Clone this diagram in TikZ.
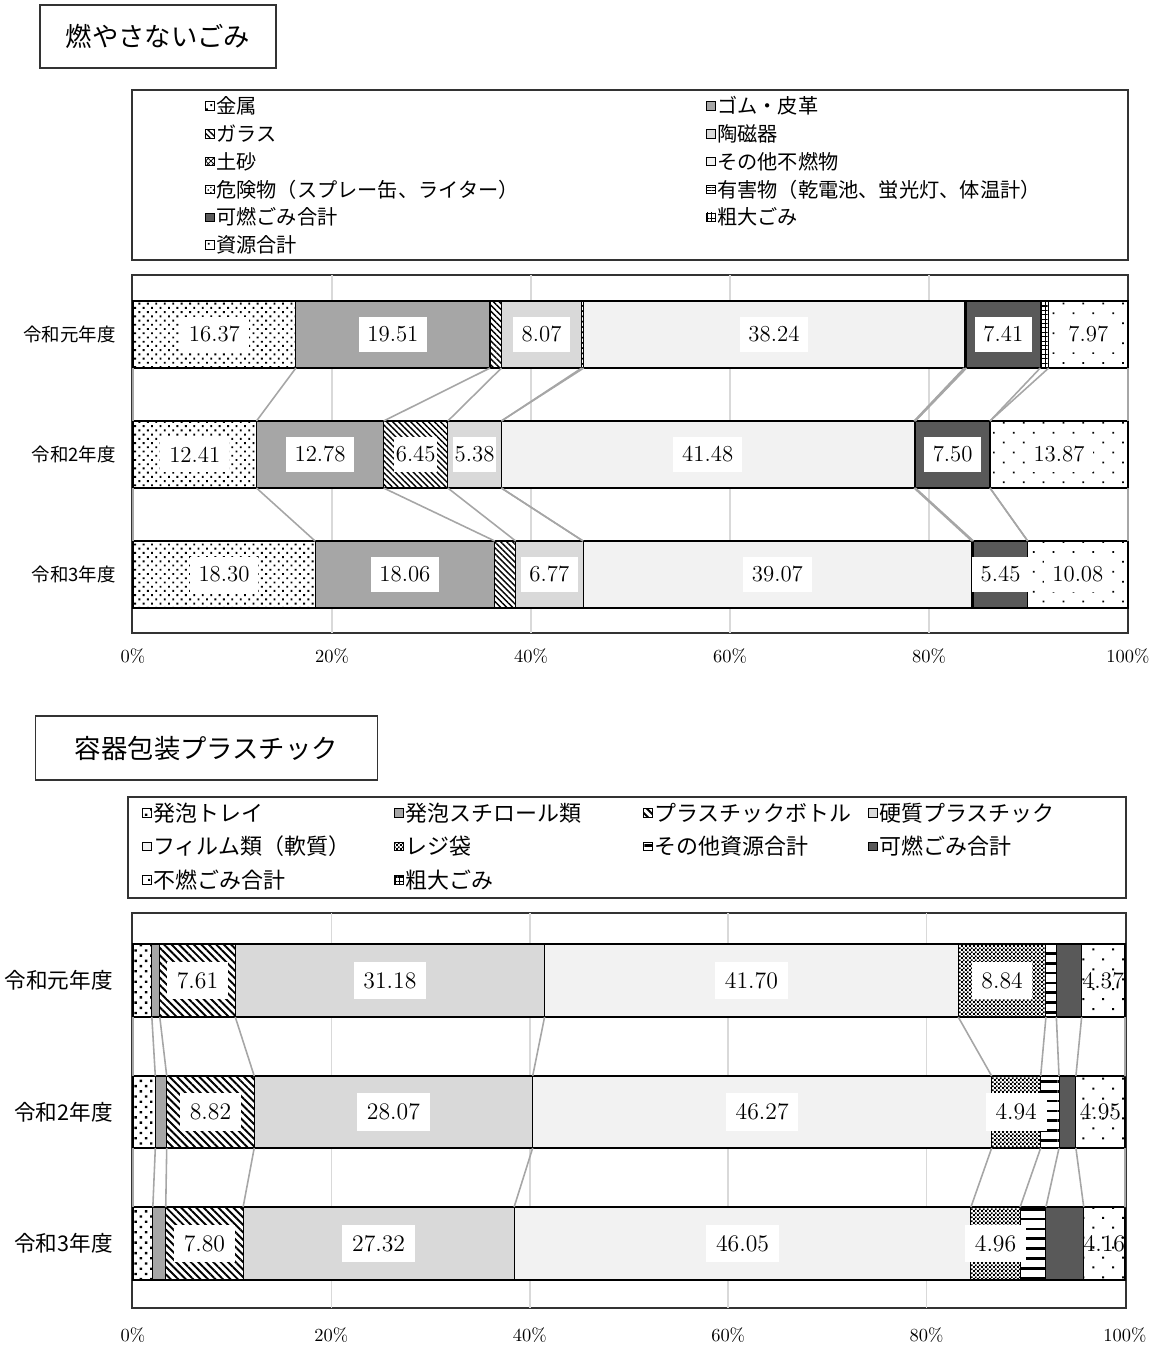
\documentclass[tikz,border=0pt]{standalone}
\usepackage{fontspec}
\newfontfamily\jpfont{Noto Sans CJK JP}
\usepackage{xcolor}
\usepackage{tikz}
\usetikzlibrary{patterns}
\usetikzlibrary{patterns.meta}

\definecolor{midgray}{HTML}{A6A6A6}
\definecolor{lightgray2}{HTML}{D9D9D9}
\definecolor{palegray}{HTML}{F2F2F2}
\definecolor{darkgray2}{HTML}{595959}

\pgfdeclarepatternformonly{finecheck}{\pgfpointorigin}{\pgfpoint{2.4pt}{2.4pt}}{\pgfpoint{2.4pt}{2.4pt}}{%
    \pgfpathrectangle{\pgfpointorigin}{\pgfpoint{1.2pt}{1.2pt}}%
    \pgfpathrectangle{\pgfpoint{1.2pt}{1.2pt}}{\pgfpoint{1.2pt}{1.2pt}}%
    \pgfusepath{fill}}

\def\nolabel{-}

% one stacked bar: name, y top, y bottom, px per percent, label style, segments
\newcommand{\stackbar}[6]{%
    \gdef\cumsum{0}%
    \coordinate (#1-0-t) at (133,#2);
    \coordinate (#1-0-b) at (133,#3);
    \foreach \v/\s/\l/\ls [count=\k] in {#6}{
        \pgfmathsetmacro{\xa}{133+\cumsum*#4}
        \pgfmathsetmacro{\nc}{\cumsum+\v}
        \pgfmathsetmacro{\xb}{133+\nc*#4}
        \xdef\cumsum{\nc}
        \fill[white] (\xa,#2) rectangle (\xb,#3);
        \path[\s] (\xa,#2) rectangle (\xb,#3);
        \draw[segedge] (\xa,#2) rectangle (\xb,#3);
        \coordinate (#1-\k-t) at (\xb,#2);
        \coordinate (#1-\k-b) at (\xb,#3);
    }%
    % labels on top of all segments
    \gdef\cumsum{0}%
    \foreach \v/\s/\l/\ls [count=\k] in {#6}{
        \pgfmathsetmacro{\xa}{133+\cumsum*#4}
        \pgfmathsetmacro{\nc}{\cumsum+\v}
        \pgfmathsetmacro{\xb}{133+\nc*#4}
        \xdef\cumsum{\nc}
        \ifx\l\nolabel\else
            \node[#5,\ls] (#1-\k-lab) at ({(\xa+\xb)/2},{(#2+#3)/2}) {\l};
        \fi
    }%
}

\begin{document}
\begin{tikzpicture}[x=0.02cm, y=-0.02cm,
    boxline/.style={draw=black!80, line width=0.6pt},
    titlebox/.style={draw=black!80, line width=0.6pt, inner sep=0pt, font=\jpfont\fontsize{15}{18}\selectfont},
    segedge/.style={draw=black, line width=0.6pt},
    gridline/.style={draw=lightgray2, line width=0.85pt},
    linkline/.style={draw=midgray, line width=0.9pt},
    legbox/.style={draw=black, line width=0.5pt, minimum size=4.8pt, inner sep=0pt},
    legtext/.style={anchor=west, inner sep=0pt, font=\jpfont\fontsize{11.5}{13}\selectfont},
    legtextb/.style={anchor=west, inner sep=0pt, font=\jpfont\fontsize{12.5}{14}\selectfont},
    catlabel/.style={anchor=east, inner sep=0pt, font=\jpfont\fontsize{10.5}{12}\selectfont},
    catlabelb/.style={anchor=east, inner sep=0pt, font=\jpfont\fontsize{12.3}{14}\selectfont},
    ticklabel/.style={inner sep=0pt, font=\fontsize{10.5}{12}\selectfont},
    vallabel/.style={fill=white, inner xsep=5pt, inner ysep=5.5pt, font=\fontsize{13}{15}\selectfont},
    vallabelb/.style={fill=white, inner xsep=5.5pt, inner ysep=6pt, font=\fontsize{13.5}{16}\selectfont},
    lb/.style={},
    nobg/.style={fill=none},
    tight/.style={inner xsep=1pt},
    % patterns of the first chart
    kinzoku/.style={pattern={Dots[distance=3.4pt, angle=45, radius=0.75pt]}},
    gomu/.style={fill=midgray},
    garasu/.style={pattern={Lines[angle=-45, distance=2.4pt, line width=0.8pt]}},
    toujiki/.style={fill=lightgray2},
    dosha/.style={pattern=crosshatch},
    sonota/.style={fill=palegray},
    kiken/.style={pattern=crosshatch dots},
    yugai/.style={pattern={Lines[angle=0, distance=2pt, line width=0.5pt]}},
    kanen/.style={fill=darkgray2},
    sodai/.style={pattern={Hatch[angle=0, distance=2.5pt, line width=0.6pt]}},
    shigen/.style={pattern={Dots[distance=8pt, angle=45, radius=0.7pt]}},
    % patterns of the second chart
    tray/.style={pattern={Dots[distance=4.2pt, angle=45, radius=0.95pt]}},
    styro/.style={fill=midgray},
    bottle/.style={pattern={Lines[angle=-45, distance=3pt, line width=1.1pt]}},
    kousitsu/.style={fill=lightgray2},
    film/.style={fill=palegray},
    reji/.style={pattern=finecheck},
    ladder/.style={pattern={Lines[angle=0, distance=5.6pt, line width=1.5pt]}},
    funen/.style={pattern={Dots[distance=8pt, angle=45, radius=0.8pt]}}
]
    \useasboundingbox (0,0) rectangle (1159,1347);

    % ---------- 燃やさないごみ ----------
    \node[titlebox, minimum width=4.72cm, minimum height=1.26cm] (title1) at (158,36.5) {燃やさないごみ};

    \draw[boxline] (132,90) rectangle (1128,260);
    \foreach \s/\t [count=\i from 0] in {kinzoku/金属, gomu/ゴム・皮革, garasu/ガラス, toujiki/陶磁器, dosha/土砂, sonota/その他不燃物, kiken/危険物（スプレー缶、ライター）, yugai/有害物（乾電池、蛍光灯、体温計）, kanen/可燃ごみ合計, sodai/粗大ごみ, shigen/資源合計}{
        \pgfmathsetmacro{\lx}{210+mod(\i,2)*501}
        \pgfmathsetmacro{\ly}{106+floor(\i/2)*27.8}
        \node[legbox,\s] (leg1-\i) at (\lx,\ly) {};
        \node[legtext] (leg1-\i-t) at (\lx+6,\ly) {\t};
    }

    \draw[boxline] (132,275) rectangle (1128,633);
    \foreach \g in {1,...,4}
        \draw[gridline] ({133+\g*199},275) -- ({133+\g*199},633);

    \stackbar{a1}{301}{368}{9.95}{vallabel}{16.37/kinzoku/16.37/lb, 19.51/gomu/19.51/lb, 1.15/garasu/-/lb, 8.07/toujiki/8.07/lb, 0.2/dosha/-/lb, 38.24/sonota/38.24/lb, 0.15/kiken/-/lb, 0.08/yugai/-/lb, 7.41/kanen/7.41/lb, 0.85/sodai/-/lb, 7.97/shigen/7.97/lb}
    \stackbar{a2}{421}{488}{9.95}{vallabel}{12.41/kinzoku/12.41/lb, 12.78/gomu/12.78/lb, 6.45/garasu/6.45/tight, 5.38/toujiki/5.38/tight, 0/dosha/-/lb, 41.48/sonota/41.48/lb, 0.08/kiken/-/lb, 0.05/yugai/-/lb, 7.50/kanen/7.50/lb, 0/sodai/-/lb, 13.87/shigen/13.87/lb}
    \stackbar{a3}{541}{608}{9.95}{vallabel}{18.30/kinzoku/18.30/lb, 18.06/gomu/18.06/lb, 2.1/garasu/-/lb, 6.77/toujiki/6.77/lb, 0/dosha/-/lb, 39.07/sonota/39.07/lb, 0.1/kiken/-/lb, 0.07/yugai/-/lb, 5.45/kanen/5.45/lb, 0/sodai/-/lb, 10.08/shigen/10.08/lb}

    \foreach \k in {0,...,11}{
        \draw[linkline] (a1-\k-b) -- (a2-\k-t);
        \draw[linkline] (a2-\k-b) -- (a3-\k-t);
    }

    \node[catlabel] (year1a) at (116,334.5) {令和元年度};
    \node[catlabel] (year1b) at (116,454.5) {令和2年度};
    \node[catlabel] (year1c) at (116,574.5) {令和3年度};

    \foreach \p in {0,20,...,100}
        \node[ticklabel] (ax1-\p) at ({133+\p*9.95},656) {\p\%};

    % ---------- 容器包装プラスチック ----------
    \node[titlebox, minimum width=6.86cm, minimum height=1.28cm] (title2) at (206.5,748) {容器包装プラスチック};

    \draw[boxline] (128,797) rectangle (1126,898);
    \foreach \s/\t/\lx/\ly [count=\i] in {tray/発泡トレイ/147/813, styro/発泡スチロール類/399/813, bottle/プラスチックボトル/648/813, kousitsu/硬質プラスチック/873/813, film/フィルム類（軟質）/147/846.5, reji/レジ袋/399/846.5, ladder/その他資源合計/648/846.5, kanen/可燃ごみ合計/873/846.5, funen/不燃ごみ合計/147/880, sodai/粗大ごみ/399/880}{
        \node[legbox,\s] (leg2-\i) at (\lx,\ly) {};
        \node[legtextb] (leg2-\i-t) at (\lx+6,\ly) {\t};
    }

    \draw[boxline] (132,913) rectangle (1126,1308);
    \foreach \g in {1,...,4}
        \draw[gridline] ({133+\g*198.4},913) -- ({133+\g*198.4},1308);

    \stackbar{b1}{944}{1017}{9.92}{vallabelb}{1.9/tray/-/lb, 0.8/styro/-/lb, 7.61/bottle/7.61/lb, 31.18/kousitsu/31.18/lb, 41.70/film/41.70/lb, 8.84/reji/8.84/lb, 1.05/ladder/-/lb, 2.55/kanen/-/lb, 4.37/funen/4.37/nobg, 0/sodai/-/lb}
    \stackbar{b2}{1076}{1148}{9.92}{vallabelb}{2.25/tray/-/lb, 1.15/styro/-/lb, 8.82/bottle/8.82/lb, 28.07/kousitsu/28.07/lb, 46.27/film/46.27/lb, 4.94/reji/4.94/lb, 1.85/ladder/-/lb, 1.7/kanen/-/lb, 4.95/funen/4.95/nobg, 0/sodai/-/lb}
    \stackbar{b3}{1207}{1280}{9.92}{vallabelb}{2.0/tray/-/lb, 1.3/styro/-/lb, 7.80/bottle/7.80/lb, 27.32/kousitsu/27.32/lb, 46.05/film/46.05/lb, 4.96/reji/4.96/lb, 2.6/ladder/-/lb, 3.81/kanen/-/lb, 4.16/funen/4.16/nobg, 0/sodai/-/lb}

    \foreach \k in {0,...,10}{
        \draw[linkline] (b1-\k-b) -- (b2-\k-t);
        \draw[linkline] (b2-\k-b) -- (b3-\k-t);
    }

    \node[catlabelb] (year2a) at (113,980.5) {令和元年度};
    \node[catlabelb] (year2b) at (113,1112) {令和2年度};
    \node[catlabelb] (year2c) at (113,1243.5) {令和3年度};

    \foreach \p in {0,20,...,100}
        \node[ticklabel] (ax2-\p) at ({133+\p*9.92},1335) {\p\%};
\end{tikzpicture}
\end{document}
